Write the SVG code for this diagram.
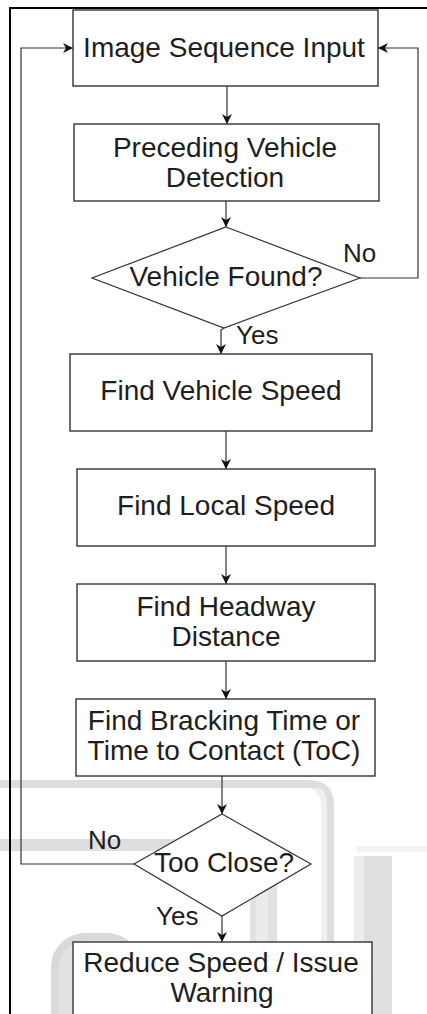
<svg xmlns="http://www.w3.org/2000/svg" width="427" height="1014" viewBox="0 0 427 1014">
<style>
.box{fill:#fff;stroke:#333;stroke-width:1.4}
.dia{fill:#fff;stroke:#333;stroke-width:1.2}
.t{font-family:"Liberation Sans",Arial,sans-serif;font-size:28px;fill:#1e1e1e;text-anchor:middle}
.lbl{font-family:"Liberation Sans",Arial,sans-serif;font-size:26px;fill:#1e1e1e}
.ln{fill:none;stroke:#333;stroke-width:1.2}
.wm{fill:none;stroke:#dedede}
</style>
<defs>
<marker id="ah" markerUnits="userSpaceOnUse" markerWidth="12" markerHeight="12" refX="10" refY="5" orient="auto">
<path d="M0,0 L10,5 L0,10 L3,5 Z" fill="#111"/>
</marker>
</defs>
<rect x="0" y="0" width="427" height="1014" fill="#fff"/>
<g id="watermark">
<path class="wm" stroke-width="8" d="M0,784 H308 Q330,784 330,806 V1014"/>
<path fill="none" stroke="#f0f0f0" stroke-width="6" d="M316,790 Q324,792 324,806 V1014"/>
<path class="wm" stroke-width="12" d="M0,845 H200"/>
<path fill="none" stroke="#f2f2f2" stroke-width="6" d="M357,849 H427"/>
<rect x="250" y="860" width="27" height="154" fill="#e2e2e2"/>
<rect x="256" y="860" width="12" height="154" fill="#ebebeb"/>
<rect x="354" y="856" width="38" height="158" fill="#e0e0e0"/>
<rect x="354" y="856" width="10" height="158" fill="#ededed"/>
<rect x="51" y="933" width="90" height="120" rx="34" fill="#d9d9d9"/>
<rect x="58" y="940" width="90" height="120" rx="30" fill="#e2e2e2"/>
</g>
<g id="frame">
<path d="M10,1014 V8 H427" fill="none" stroke="#000" stroke-width="2"/>
</g>
<g id="connectors">
<path class="ln" marker-end="url(#ah)" d="M227,86 V124"/>
<path class="ln" marker-end="url(#ah)" d="M226,201 V227"/>
<path class="ln" marker-end="url(#ah)" d="M224,328 L221,330 V354"/>
<path class="ln" marker-end="url(#ah)" d="M226,431 V469"/>
<path class="ln" marker-end="url(#ah)" d="M226,546 V584"/>
<path class="ln" marker-end="url(#ah)" d="M226,661 V699"/>
<path class="ln" marker-end="url(#ah)" d="M222,776 V814"/>
<path class="ln" marker-end="url(#ah)" d="M222,916 V942"/>
<path class="ln" marker-end="url(#ah)" d="M360,278 H418 V48 H378"/>
<path class="ln" marker-end="url(#ah)" d="M134,864 H21 V48 H73"/>
<text class="lbl" x="343" y="262">No</text>
<text class="lbl" x="236" y="344">Yes</text>
<text class="lbl" x="88" y="849">No</text>
<text class="lbl" x="156" y="925">Yes</text>
</g>
<g id="n1">
<rect class="box" x="73" y="10" width="305" height="76"/>
<text class="t" x="224" y="57">Image Sequence Input</text>
</g>
<g id="n2">
<rect class="box" x="74" y="124" width="305" height="77"/>
<text class="t" x="225" y="157">Preceding Vehicle</text>
<text class="t" x="225" y="187">Detection</text>
</g>
<g id="n3">
<polygon class="dia" points="226,227 360,278 224,328 92,278"/>
<text class="t" x="226" y="286">Vehicle Found?</text>
</g>
<g id="n4">
<rect class="box" x="70" y="354" width="302" height="77"/>
<text class="t" x="221" y="400">Find Vehicle Speed</text>
</g>
<g id="n5">
<rect class="box" x="77" y="469" width="298" height="77"/>
<text class="t" x="226" y="515">Find Local Speed</text>
</g>
<g id="n6">
<rect class="box" x="77" y="584" width="298" height="77"/>
<text class="t" x="226" y="616">Find Headway</text>
<text class="t" x="226" y="646">Distance</text>
</g>
<g id="n7">
<rect class="box" x="76" y="699" width="299" height="77"/>
<text class="t" x="224" y="730">Find Bracking Time or</text>
<text class="t" x="224" y="760">Time to Contact (ToC)</text>
</g>
<g id="n8">
<polygon class="dia" points="222,814 311,864 222,916 134,864"/>
<text class="t" x="224" y="872">Too Close?</text>
</g>
<g id="n9">
<rect class="box" x="73" y="942" width="299" height="90"/>
<text class="t" x="221" y="972">Reduce Speed / Issue</text>
<text class="t" x="222" y="1002">Warning</text>
</g>
</svg>
